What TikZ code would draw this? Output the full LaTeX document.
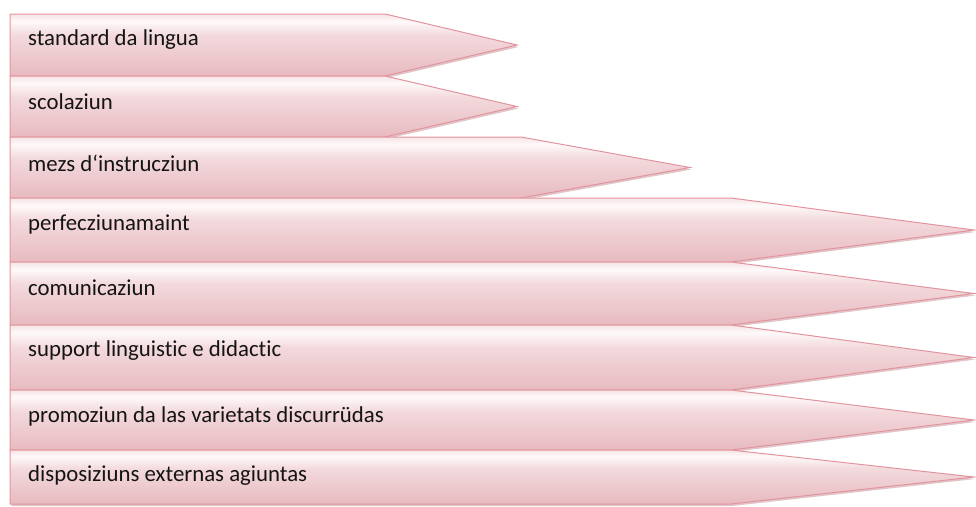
\documentclass[tikz,border=0pt]{standalone}
\usepackage{fontspec}
\setmainfont[RawFeature=-liga]{Carlito}
\usepackage{tikz}
\usetikzlibrary{
  positioning,
  shadows
}
\definecolor{BarTop}{RGB}{246, 228, 230}
\definecolor{BarLight}{RGB}{254, 249, 249}
\definecolor{BarMid}{RGB}{243, 218, 221}
\definecolor{BarDark}{RGB}{231, 186, 192}
\definecolor{BarLine}{RGB}{226, 148, 158}
\definecolor{BarShadow}{RGB}{196, 140, 148}
\definecolor{LabelGray}{RGB}{20, 20, 20}
\pgfdeclareverticalshading{barfill}{100bp}{
  color(0bp)=(BarDark); color(25bp)=(BarDark); color(58bp)=(BarMid);
  color(69bp)=(BarLight); color(75bp)=(BarTop); color(100bp)=(BarTop)}

\begin{document}
\begin{tikzpicture}[x=1pt, y=-1pt,
    bar/.style={draw=BarLine, line width=1pt, shading=barfill,
      drop shadow={shadow xshift=1.5pt, shadow yshift=-2pt, fill=BarShadow, opacity=.5}},
    barlabel/.style={anchor=west, inner sep=0pt, text=LabelGray,
      font=\fontsize{22.8}{27}\selectfont}]
  \useasboundingbox (0,0) rectangle (976,506);
  % top / bottom / end of body / tip / name / text
  \foreach \t/\b/\r/\p/\name/\txt in {
      14/76/385/517/standard/standard da lingua,
      76/137/385/517/scolaziun/scolaziun,
      137/198/521/690/mezs/mezs d‘instrucziun,
      198/262/731/974/perfecz/perfecziunamaint,
      262/325/731/974/comunic/comunicaziun,
      325/390/731/974/support/support linguistic e didactic,
      390/450/731/974/promoz/promoziun da las varietats discurrüdas,
      450/504/731/974/dispos/disposiziuns externas agiuntas}{
    \draw[bar] (10,\t) -- (\r,\t) -- ({\p},{(\t+\b)/2}) -- (\r,\b) -- (10,\b) -- cycle;
    \node[barlabel] (\name) at (28,{\t+26}) {\txt};
  }
\end{tikzpicture}
\end{document}
